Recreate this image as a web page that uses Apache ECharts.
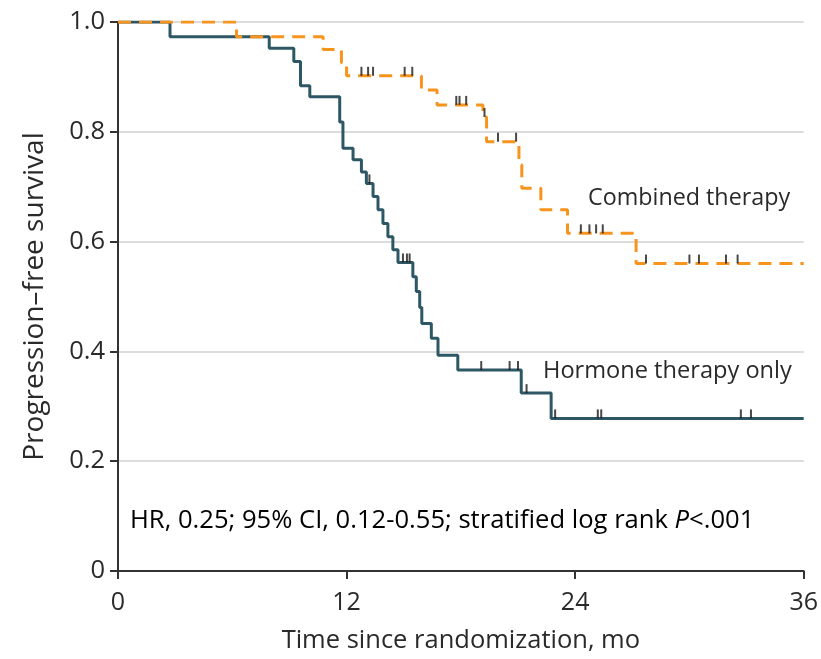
<!DOCTYPE html>
<html>
<head>
<meta charset="utf-8">
<script src="https://cdn.jsdelivr.net/npm/echarts@6/dist/echarts.min.js"></script>
<style>
  html, body { margin: 0; padding: 0; background: #fff; }
  #chart { width: 821px; height: 659px; }
</style>
</head>
<body>
<div id="chart"></div>
<script>
// Kaplan-Meier step data: time (months) and survival after each event
const hormoneTimes = [0, 2.73, 7.94, 9.23, 9.58, 10.07, 11.64, 11.81, 12.34, 12.78, 13.04, 13.39, 13.65, 13.91, 14.17, 14.43, 14.7, 15.48, 15.66, 15.84, 15.95, 16.45, 16.8, 17.84, 21.17, 22.74, 36];
const hormoneSurv  = [1, 0.973, 0.952, 0.928, 0.884, 0.864, 0.818, 0.770, 0.749, 0.727, 0.706, 0.682, 0.658, 0.633, 0.609, 0.585, 0.562, 0.536, 0.509, 0.48, 0.451, 0.424, 0.393, 0.366, 0.324, 0.278, 0.278];
const hormoneCensored = [13.2, 14.96, 15.17, 15.31, 19.07, 20.56, 21.0, 21.45, 22.95, 25.19, 25.37, 32.7, 33.23];

const combinedTimes = [0, 6.22, 10.77, 11.73, 12.0, 15.93, 16.75, 19.16, 19.35, 21.05, 21.2, 22.2, 23.6, 27.2, 36];
const combinedSurv  = [1, 0.973, 0.950, 0.926, 0.902, 0.876, 0.849, 0.827, 0.782, 0.74, 0.697, 0.658, 0.615, 0.560, 0.560];
const combinedCensored = [12.78, 13.13, 13.39, 15.05, 15.45, 17.76, 17.93, 18.28, 19.24, 19.95, 20.9, 24.3, 24.75, 25.1, 25.45, 27.72, 30.0, 30.5, 31.92, 32.53];

const xTicks = [0, 12, 24, 36];
const yTicks = [0, 0.2, 0.4, 0.6, 0.8, 1.0];

const FONT = '"Open Sans", "Liberation Sans", sans-serif';
const TEXT = '#2a2a2a';
const TEAL = '#2d5764';
const ORANGE = '#f7941e';

function pairs(ts, ss) { return ts.map((t, i) => [t, ss[i]]); }
// survival level of a step curve at time t
function levelAt(ts, ss, t) {
  let v = ss[0];
  for (let i = 0; i < ts.length; i++) { if (ts[i] <= t) v = ss[i]; }
  return v;
}
function censorPoints(ts, ss, cs) { return cs.map(t => [t, levelAt(ts, ss, t)]); }

const chart = echarts.init(document.getElementById('chart'));
chart.setOption({
  animation: false,
  backgroundColor: '#fff',
  grid: { left: 118, right: 16, top: 22, bottom: 88 },
  xAxis: {
    type: 'value', min: 0, max: 36, interval: 12,
    name: 'Time since randomization, mo', nameLocation: 'middle', nameGap: 57,
    nameTextStyle: { fontFamily: FONT, fontSize: 25.5, color: TEXT },
    axisLine: { show: true, onZero: false, lineStyle: { color: '#333', width: 2 } },
    axisTick: { show: true, length: 8, lineStyle: { color: '#333', width: 2 } },
    axisLabel: { fontFamily: FONT, fontSize: 25, color: TEXT, margin: 19,
      formatter: v => xTicks.includes(v) ? String(v) : '' },
    splitLine: { show: false }
  },
  yAxis: {
    type: 'value', min: 0, max: 1, interval: 0.2,
    name: 'Progression–free survival', nameLocation: 'middle', nameGap: 69,
    nameTextStyle: { fontFamily: FONT, fontSize: 28, color: TEXT },
    axisLine: { show: true, onZero: false, lineStyle: { color: '#333', width: 2 } },
    axisTick: { show: true, length: 8, lineStyle: { color: '#333', width: 2 } },
    axisLabel: { fontFamily: FONT, fontSize: 25.5, color: TEXT, margin: 13,
      formatter: v => { const t = yTicks.find(y => Math.abs(y - v) < 1e-9); return t === undefined ? '' : (t === 0 ? '0' : t.toFixed(1)); } },
    splitLine: { show: true, lineStyle: { color: '#dcdcdc', width: 2 } }
  },
  series: [
    {
      name: 'Hormone therapy only', type: 'line', step: 'end', symbol: 'none',
      data: pairs(hormoneTimes, hormoneSurv),
      lineStyle: { color: TEAL, width: 3 }, z: 3
    },
    {
      name: 'Combined therapy', type: 'line', step: 'end', symbol: 'none',
      data: pairs(combinedTimes, combinedSurv),
      lineStyle: { color: ORANGE, width: 3, type: [13, 8] }, z: 4
    },
    {
      type: 'scatter', symbol: 'rect', symbolSize: [2, 9], symbolOffset: [0, '-50%'],
      data: censorPoints(hormoneTimes, hormoneSurv, hormoneCensored),
      itemStyle: { color: '#1a1a1a' }, z: 5, silent: true
    },
    {
      type: 'scatter', symbol: 'rect', symbolSize: [2, 9], symbolOffset: [0, '-50%'],
      data: censorPoints(combinedTimes, combinedSurv, combinedCensored),
      itemStyle: { color: '#1a1a1a' }, z: 5, silent: true
    }
  ],
  graphic: [
    { type: 'text', x: 588, y: 198, z: 10,
      style: { text: 'Combined therapy', font: '23.3px ' + FONT, fill: TEXT, verticalAlign: 'middle' } },
    { type: 'text', x: 543, y: 371, z: 10,
      style: { text: 'Hormone therapy only', font: '23.6px ' + FONT, fill: TEXT, verticalAlign: 'middle' } },
    { type: 'text', x: 130, y: 521, z: 10,
      style: {
        text: '{a|HR, 0.25; 95% CI, 0.12-0.55; stratified log rank }{i|P}{a|<.001}',
        verticalAlign: 'middle',
        rich: {
          a: { fontFamily: FONT, fontSize: 25.6, color: TEXT },
          i: { fontFamily: FONT, fontSize: 25.6, color: TEXT, fontStyle: 'italic' }
        }
      } }
  ]
});
</script>
</body>
</html>
